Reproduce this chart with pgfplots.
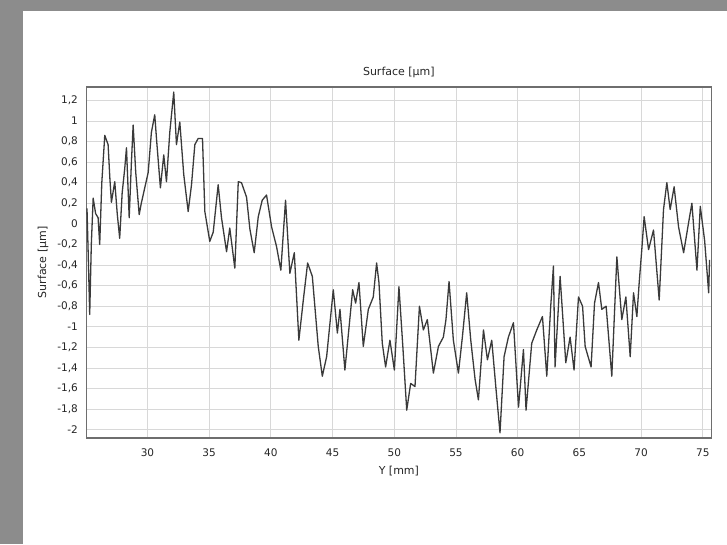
\documentclass[border=0pt]{standalone}
\usepackage{pgfplots}
\pgfplotsset{compat=1.18}
\usepackage{fontspec}
\setmainfont{DejaVu Sans}
\definecolor{framegray}{HTML}{8C8C8C}
\definecolor{axgray}{HTML}{6E6E6E}
\definecolor{gridgray}{HTML}{D8D8D8}
\definecolor{curve}{HTML}{3A3A3A}
\begin{document}
\begin{tikzpicture}[x=1pt,y=1pt]
\useasboundingbox (0,0) rectangle (727,544);
\fill[framegray] (0,0) rectangle (727,544);
\fill[white] (23,0) rectangle (727,533);
\begin{axis}[
  at={(70,103)}, anchor=south west,
  scale only axis, width=625pt, height=351pt,
  xmin=25.05, xmax=75.7, ymin=-2.08, ymax=1.33,
  xtick={30,35,40,45,50,55,60,65,70,75},
  ytick={-2,-1.8,-1.6,-1.4,-1.2,-1,-0.8,-0.6,-0.4,-0.2,0,0.2,0.4,0.6,0.8,1,1.2},
  /pgf/number format/assume math mode=true,
  /pgf/number format/use comma,
  tick style={draw=none},
  grid=major,
  major grid style={gridgray, line width=0.8pt},
  axis line style={axgray, line width=1.5pt},
  ticklabel style={font=\fontsize{10.5}{12}\selectfont, text=black!85},
  yticklabel style={xshift=-5pt},
  xticklabel style={yshift=-7pt},
  title={Surface [µm]},
  title style={font=\fontsize{11}{13}\selectfont, yshift=0pt, text=black!85},
  xlabel={Y [mm]},
  ylabel={Surface [µm]},
  xlabel style={font=\fontsize{11}{13}\selectfont, yshift=-3pt, text=black!85},
  ylabel style={font=\fontsize{11}{13}\selectfont, yshift=2pt, text=black!85},
]
\addplot[curve, line width=1.3pt, line join=round] coordinates {
(25.10,0.15) (25.20,-0.30) (25.32,-0.88) (25.45,-0.20) (25.60,0.25) (25.80,0.10)
(26.00,0.06) (26.13,-0.20) (26.30,0.40) (26.54,0.86) (26.81,0.77) (26.95,0.45)
(27.08,0.21) (27.35,0.41) (27.55,0.10) (27.75,-0.14) (27.95,0.30) (28.16,0.54)
(28.30,0.74) (28.52,0.06) (28.70,0.60) (28.84,0.96) (29.05,0.50) (29.33,0.09)
(29.50,0.20) (29.65,0.28) (30.06,0.50) (30.32,0.89) (30.59,1.06) (30.75,0.80)
(31.05,0.35) (31.32,0.67) (31.54,0.41) (31.81,0.89) (32.13,1.28) (32.35,0.77)
(32.62,0.99) (32.94,0.48) (33.30,0.12) (33.57,0.38) (33.84,0.77) (34.11,0.83)
(34.46,0.83) (34.65,0.12) (35.05,-0.17) (35.33,-0.08) (35.73,0.38) (36.00,0.06)
(36.41,-0.27) (36.67,-0.04) (37.08,-0.43) (37.36,0.41) (37.62,0.40) (38.03,0.26)
(38.30,-0.05) (38.65,-0.28) (38.98,0.07) (39.30,0.23) (39.65,0.28) (40.06,-0.03)
(40.46,-0.22) (40.81,-0.45) (41.19,0.23) (41.54,-0.48) (41.90,-0.28) (42.27,-1.13)
(42.63,-0.74) (42.98,-0.38) (43.36,-0.51) (43.84,-1.19) (44.17,-1.48) (44.52,-1.29)
(45.06,-0.64) (45.39,-1.06) (45.60,-0.83) (46.00,-1.42) (46.63,-0.64) (46.87,-0.77)
(47.14,-0.57) (47.49,-1.19) (47.90,-0.83) (48.30,-0.71) (48.57,-0.38) (48.76,-0.57)
(49.03,-1.16) (49.30,-1.39) (49.65,-1.13) (50.01,-1.42) (50.38,-0.61) (50.70,-1.20)
(51.01,-1.81) (51.33,-1.55) (51.68,-1.58) (52.04,-0.80) (52.36,-1.03) (52.68,-0.93)
(53.17,-1.45) (53.58,-1.19) (53.98,-1.10) (54.19,-0.93) (54.44,-0.56) (54.79,-1.13)
(55.20,-1.45) (55.52,-1.10) (55.87,-0.67) (56.20,-1.13) (56.55,-1.51) (56.82,-1.71)
(57.23,-1.03) (57.55,-1.32) (57.90,-1.13) (58.25,-1.61) (58.57,-2.03) (58.90,-1.29)
(59.25,-1.10) (59.66,-0.96) (60.07,-1.78) (60.47,-1.22) (60.68,-1.81) (61.14,-1.16)
(61.55,-1.03) (62.01,-0.90) (62.36,-1.48) (62.68,-0.80) (62.90,-0.41) (63.03,-1.39)
(63.44,-0.51) (63.90,-1.35) (64.25,-1.10) (64.57,-1.42) (64.93,-0.71) (65.26,-0.80)
(65.47,-1.19) (65.95,-1.39) (66.23,-0.77) (66.55,-0.57) (66.82,-0.83) (67.17,-0.80)
(67.63,-1.48) (68.04,-0.32) (68.44,-0.93) (68.77,-0.71) (69.12,-1.29) (69.39,-0.67)
(69.66,-0.90) (69.85,-0.57) (70.06,-0.25) (70.25,0.07) (70.61,-0.25) (71.01,-0.06)
(71.47,-0.74) (71.82,0.14) (72.09,0.40) (72.36,0.14) (72.68,0.36) (73.04,-0.03)
(73.45,-0.28) (73.85,0.01) (74.12,0.20) (74.53,-0.45) (74.80,0.17) (75.15,-0.16)
(75.48,-0.67) (75.55,-0.35)
};
\end{axis}
\end{tikzpicture}
\end{document}
